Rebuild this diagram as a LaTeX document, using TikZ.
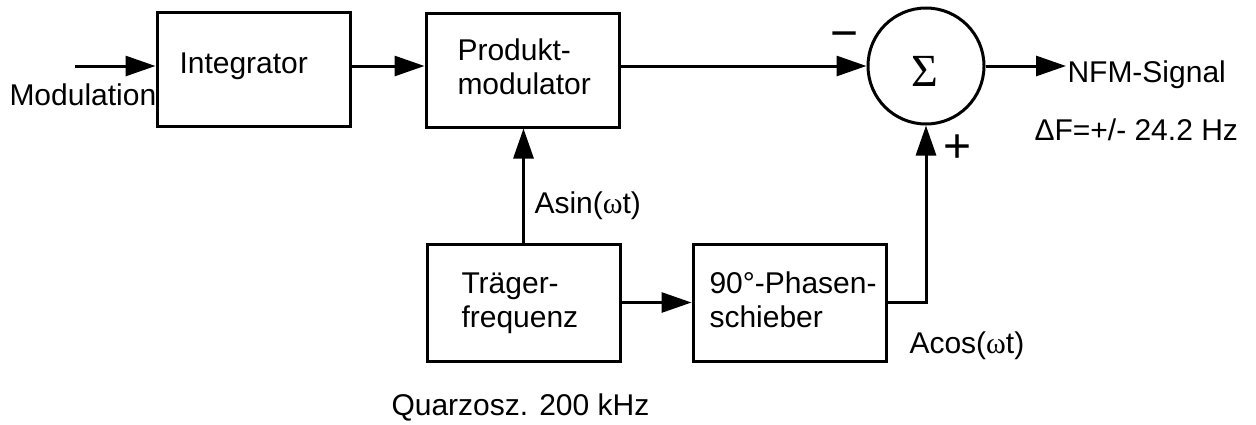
\documentclass[tikz,border=0pt]{standalone}
\usepackage{fontspec}
\setmainfont{Liberation Sans}
\newfontfamily\seriffont{Liberation Serif}
\usetikzlibrary{arrows.meta}
\begin{document}
\begin{tikzpicture}[x=1pt,y=-1pt,line width=3pt,
  blk/.style={draw,rectangle,minimum width=193pt,minimum height=114pt,inner sep=0pt},
  sumnode/.style={draw,circle,minimum size=116pt,inner sep=0pt},
  txt/.style={font=\fontsize{30}{34}\selectfont,inner sep=0pt,align=left},
  sgn/.style={font=\fontsize{48}{50}\selectfont,inner sep=0pt},
  arr/.style={-{Triangle[length=30pt,width=20pt]}}]
\useasboundingbox (0,0) rectangle (1256,424);
% blocks
\node[blk] (int) at (253.5,69) {};
\node[blk] (prod) at (522.5,70) {};
\node[blk,minimum height=117pt] (trag) at (523.5,302.5) {};
\node[blk,minimum height=117pt] (phase) at (789.5,302.5) {};
\node[sumnode] (sum) at (926,66) {};
% texts in blocks
\node[txt,anchor=base west] (tint) at (178,73) {Integrator};
\node[txt,anchor=base west] (tprod) at (456,94) {Produkt-\\modulator};
\node[txt,anchor=base west] (ttrag) at (460,327) {Träger-\\frequenz};
\node[txt,anchor=base west] (tphase) at (708,327) {90°-Phasen-\\schieber};
\node[font=\seriffont\fontsize{46}{48}\selectfont,inner sep=0pt,anchor=base] (sigma) at (925,86) {Σ};
% labels
\node[txt,anchor=base west] (modl) at (8,105) {Modulation};
\coordinate (in) at (75,66);
\node[txt,anchor=base west] (nfm) at (1066,82) {NFM-Signal};
\node[txt,anchor=base west] (df) at (1033,140) {ΔF=+/- 24.2 Hz};
\node[txt,anchor=base west] (asin) at (533,213) {Asin({\seriffont ω}t)};
\node[txt,anchor=base west] (acos) at (908,353) {Acos({\seriffont ω}t)};
\node[txt,anchor=base west] (quarz) at (390,415) {Quarzosz. 200 kHz};
\node[sgn] (minus) at (845,41) {−};
\node[sgn] (plus) at (957.5,149) {+};
% connectors
\draw[arr] (in) -- (in -| int.west);
\draw[arr] (int.east |- sum.center) -- (prod.west |- sum.center);
\draw[arr] (prod.east |- sum.center) -- (sum.west);
\draw[arr] (sum.east) -- (sum.east -| nfm.west);
\draw[arr] (trag.north) -- (trag.north |- prod.south);
\draw[arr] (trag.east) -- (phase.west);
\draw[arr] (phase.east) -| (sum.south);
\end{tikzpicture}
\end{document}
